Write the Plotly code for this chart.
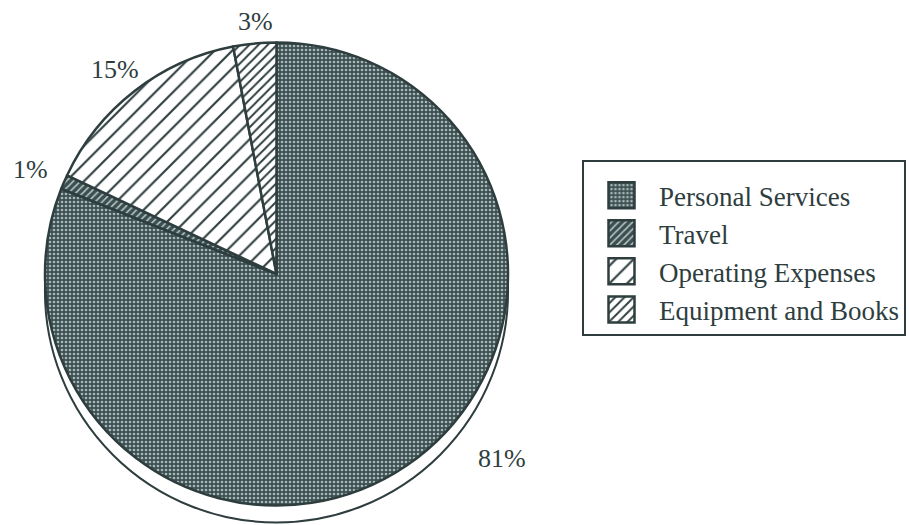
import plotly.graph_objects as go

# Budget shares (percent)
categories = ["Personal Services", "Travel", "Operating Expenses", "Equipment and Books"]
shares = [81, 1, 15, 3]

# Where each percentage label sits (pixel coords on the 910x525 canvas)
label_px = [(502, 458), (30, 170), (115, 70), (255, 22)]

W, H = 910, 525
INK = "#2e3d3e"
FONT = "'Liberation Serif', 'DejaVu Serif', serif"

# pie geometry in pixels
cx, cy, r = 276.5, 274.0, 231.5
drop = 17  # offset of the drop shadow disc


def dom(cx, cy, r):
    return dict(x=[(cx - r) / W, (cx + r) / W],
                y=[1 - (cy + r) / H, 1 - (cy - r) / H])


patterns = [
    dict(shape=".", bgcolor="#3d5051", fgcolor="#a9b8b8", size=4, solidity=0.35),
    dict(shape="/", bgcolor="#3c4f50", fgcolor="#b9c6c6", size=5, solidity=0.3),
    dict(shape="/", bgcolor="white", fgcolor=INK, size=12.5, solidity=0.17),
    dict(shape="/", bgcolor="white", fgcolor=INK, size=6.5, solidity=0.3),
]

fig = go.Figure()

# shadow disc behind the pie
fig.add_trace(go.Pie(
    values=[1], labels=["shadow"], domain=dom(cx, cy + drop, r),
    marker=dict(colors=["white"], line=dict(color=INK, width=2)),
    textinfo="none", hoverinfo="skip", showlegend=False, sort=False,
))

fig.add_trace(go.Pie(
    labels=categories, values=shares, domain=dom(cx, cy, r),
    sort=False, direction="clockwise", rotation=0,
    textinfo="none",
    marker=dict(
        colors=[p["bgcolor"] for p in patterns],
        line=dict(color=INK, width=2.5),
        pattern=dict(
            shape=[p["shape"] for p in patterns],
            bgcolor=[p["bgcolor"] for p in patterns],
            fgcolor=[p["fgcolor"] for p in patterns],
            size=[p["size"] for p in patterns],
            solidity=[p["solidity"] for p in patterns],
            fillmode="replace",
        ),
    ),
    showlegend=True,
))

annotations = []
for v, (px, py) in zip(shares, label_px):
    annotations.append(dict(
        text=f"{v}%", x=px / W, y=1 - py / H, xref="paper", yref="paper",
        xanchor="center", yanchor="middle", showarrow=False,
        font=dict(family=FONT, size=26, color=INK),
    ))

fig.update_layout(
    width=W, height=H,
    margin=dict(l=0, r=0, t=0, b=0),
    paper_bgcolor="white", plot_bgcolor="white",
    font=dict(family=FONT),
    annotations=annotations,
    legend=dict(
        x=582 / W, y=1 - 160 / H, xanchor="left", yanchor="top",
        bordercolor=INK, borderwidth=2, bgcolor="white",
        font=dict(family=FONT, size=27, color=INK),
        itemwidth=65, traceorder="normal",
        title=dict(text=" ", font=dict(size=7)),
    ),
)

# enlarge the legend swatches
swatch_js = """
document.querySelectorAll('.legendpoints path.legendpie').forEach(function (p) {
    p.setAttribute('d', 'M13,13H-13V-13H13Z');
});
"""

fig.write_html("out.html", post_script=swatch_js)
